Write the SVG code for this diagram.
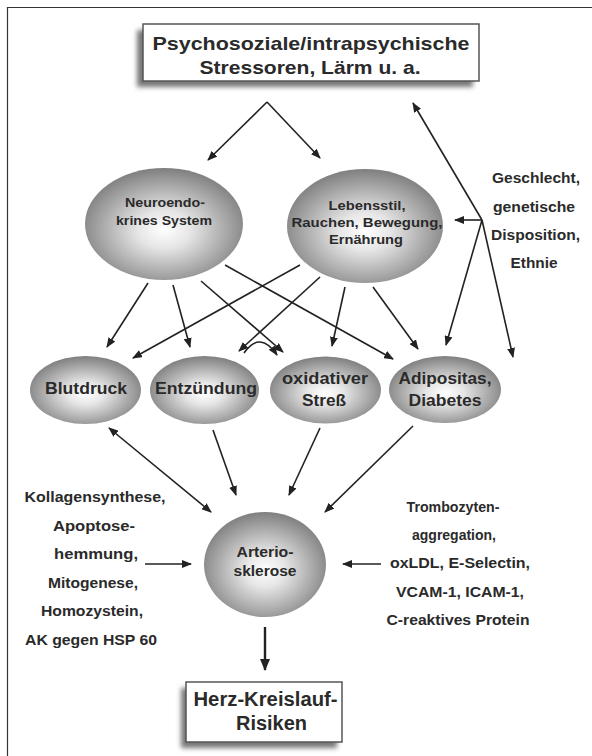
<svg xmlns="http://www.w3.org/2000/svg" width="592" height="756" viewBox="0 0 592 756">
<defs>
<radialGradient id="sph" cx="50%" cy="55%" r="55%">
<stop offset="0" stop-color="#ffffff"/>
<stop offset="0.3" stop-color="#e6e6e6"/>
<stop offset="1" stop-color="#7f7f7f"/>
</radialGradient>
<filter id="blur" x="-20%" y="-20%" width="140%" height="140%">
<feGaussianBlur stdDeviation="2.5"/>
</filter>
<marker id="ah" markerWidth="10" markerHeight="8" refX="9" refY="4" orient="auto-start-reverse" markerUnits="userSpaceOnUse">
<path d="M0,0 L10,4 L0,8 z" fill="#222"/>
</marker>
<marker id="ahb" markerWidth="12" markerHeight="10" refX="11" refY="5" orient="auto" markerUnits="userSpaceOnUse">
<path d="M0,0 L12,5 L0,10 z" fill="#222"/>
</marker>
</defs>
<style>
text{font-family:"Liberation Sans",Arial,sans-serif;font-weight:bold;fill:#2a2a2a;text-anchor:middle}
.c{stroke:#222;stroke-width:1.6;fill:none;marker-end:url(#ah)}
.box{fill:#fff;stroke:#555;stroke-width:1.5}
.sh{fill:#777;filter:url(#blur)}
.el{fill:url(#sph)}
</style>
<rect width="592" height="756" fill="#fff"/>
<path d="M7.5,756 L7.5,7.5 L592,7.5" stroke="#333" stroke-width="1.2" fill="none"/>

<g id="top">
<rect class="sh" x="137" y="30" width="336" height="57"/>
<rect class="box" x="143" y="24" width="336" height="57"/>
<text x="311" y="50" font-size="19" textLength="317" lengthAdjust="spacingAndGlyphs">Psychosoziale/intrapsychische</text>
<text x="310" y="74" font-size="19" textLength="221" lengthAdjust="spacingAndGlyphs">Stressoren, Lärm u. a.</text>
</g>

<g id="neuro">
<ellipse class="el" cx="164" cy="224" rx="79" ry="56"/>
<text x="165" y="207" font-size="13.5" textLength="80" lengthAdjust="spacingAndGlyphs">Neuroendo-</text>
<text x="164" y="225" font-size="13.5" textLength="96" lengthAdjust="spacingAndGlyphs">krines System</text>
</g>

<g id="lebensstil">
<ellipse class="el" cx="365" cy="226" rx="78" ry="57"/>
<text x="367" y="210" font-size="13.5" textLength="77" lengthAdjust="spacingAndGlyphs">Lebensstil,</text>
<text x="367" y="227" font-size="13.5" textLength="151" lengthAdjust="spacingAndGlyphs">Rauchen, Bewegung,</text>
<text x="366" y="244" font-size="13.5" textLength="74" lengthAdjust="spacingAndGlyphs">Ernährung</text>
</g>

<g id="geschlecht">
<text x="536" y="183" font-size="14" textLength="88" lengthAdjust="spacingAndGlyphs">Geschlecht,</text>
<text x="534" y="212" font-size="14" textLength="82" lengthAdjust="spacingAndGlyphs">genetische</text>
<text x="535.5" y="240" font-size="14" textLength="89" lengthAdjust="spacingAndGlyphs">Disposition,</text>
<text x="534" y="268" font-size="14" textLength="47" lengthAdjust="spacingAndGlyphs">Ethnie</text>
</g>

<g id="blutdruck">
<ellipse class="el" cx="85.5" cy="390" rx="55.5" ry="34"/>
<text x="86" y="394" font-size="16" textLength="82" lengthAdjust="spacingAndGlyphs">Blutdruck</text>
</g>

<g id="entzuendung">
<ellipse class="el" cx="204.5" cy="390" rx="54.5" ry="34"/>
<text x="206" y="394" font-size="16" textLength="102" lengthAdjust="spacingAndGlyphs">Entzündung</text>
</g>

<g id="oxidativ">
<ellipse class="el" cx="325.5" cy="390" rx="55.5" ry="33.5"/>
<text x="325" y="384" font-size="16" textLength="86" lengthAdjust="spacingAndGlyphs">oxidativer</text>
<text x="324" y="406" font-size="16" textLength="44" lengthAdjust="spacingAndGlyphs">Streß</text>
</g>

<g id="adipositas">
<ellipse class="el" cx="445" cy="389.5" rx="56" ry="33.5"/>
<text x="445" y="384" font-size="16" textLength="93" lengthAdjust="spacingAndGlyphs">Adipositas,</text>
<text x="445" y="406" font-size="16" textLength="73" lengthAdjust="spacingAndGlyphs">Diabetes</text>
</g>

<g id="arterio">
<ellipse class="el" cx="265" cy="564.5" rx="61" ry="52.5"/>
<text x="265" y="557" font-size="14" textLength="57" lengthAdjust="spacingAndGlyphs">Arterio-</text>
<text x="265" y="576" font-size="14" textLength="63" lengthAdjust="spacingAndGlyphs">sklerose</text>
</g>

<g id="links">
<text x="95" y="502" font-size="14.5" textLength="141" lengthAdjust="spacingAndGlyphs">Kollagensynthese,</text>
<text x="94" y="530.5" font-size="14.5" textLength="82" lengthAdjust="spacingAndGlyphs">Apoptose-</text>
<text x="96" y="559" font-size="14.5" textLength="84" lengthAdjust="spacingAndGlyphs">hemmung,</text>
<text x="93" y="587.5" font-size="14.5" textLength="90" lengthAdjust="spacingAndGlyphs">Mitogenese,</text>
<text x="92" y="616" font-size="14.5" textLength="102" lengthAdjust="spacingAndGlyphs">Homozystein,</text>
<text x="91" y="645" font-size="14.5" textLength="132" lengthAdjust="spacingAndGlyphs">AK gegen HSP 60</text>
</g>

<g id="rechts">
<text x="453" y="512" font-size="14.5" textLength="93" lengthAdjust="spacingAndGlyphs">Trombozyten-</text>
<text x="454" y="540" font-size="14.5" textLength="84" lengthAdjust="spacingAndGlyphs">aggregation,</text>
<text x="460" y="568" font-size="14.5" textLength="140" lengthAdjust="spacingAndGlyphs">oxLDL, E-Selectin,</text>
<text x="460" y="597" font-size="14.5" textLength="128" lengthAdjust="spacingAndGlyphs">VCAM-1, ICAM-1,</text>
<text x="458" y="625" font-size="14.5" textLength="143" lengthAdjust="spacingAndGlyphs">C-reaktives Protein</text>
</g>

<g id="herz">
<rect class="sh" x="181" y="688" width="156" height="60"/>
<rect class="box" x="186" y="682" width="156" height="60"/>
<text x="265.5" y="706" font-size="20" textLength="144" lengthAdjust="spacingAndGlyphs">Herz-Kreislauf-</text>
<text x="271.5" y="730" font-size="20" textLength="71" lengthAdjust="spacingAndGlyphs">Risiken</text>
</g>

<g id="connectors">
<path class="c" d="M267,102 L208,160"/>
<path class="c" d="M267,102 L320,158"/>
<path class="c" d="M482,220 L413,103"/>
<path class="c" d="M482,220 L455,220"/>
<path class="c" d="M482,220 L446,345"/>
<path class="c" d="M482,220 L513,357"/>
<path class="c" d="M148,283 L107,347"/>
<path class="c" d="M173,285 L190,347"/>
<path class="c" d="M201,281 L283,352"/>
<path class="c" d="M225,265 L393,359"/>
<path class="c" d="M300,265 L133,358"/>
<path class="c" d="M320,277 L239,351"/>
<path class="c" d="M345,287 L332,346"/>
<path class="c" d="M373,287 L418,349"/>
<path class="c" d="M244,353 Q260,330 277,355"/>
<path class="c" d="M109,428 L211,512" marker-start="url(#ah)"/>
<path class="c" d="M213,430 L236,495"/>
<path class="c" d="M320,428 L289,495"/>
<path class="c" d="M413,426 L325,512"/>
<path class="c" d="M145,564 L191,564"/>
<path class="c" d="M381,564 L343,564"/>
<path d="M265,627 L265,670" stroke="#222" stroke-width="2.4" fill="none" marker-end="url(#ahb)"/>
</g>
</svg>
